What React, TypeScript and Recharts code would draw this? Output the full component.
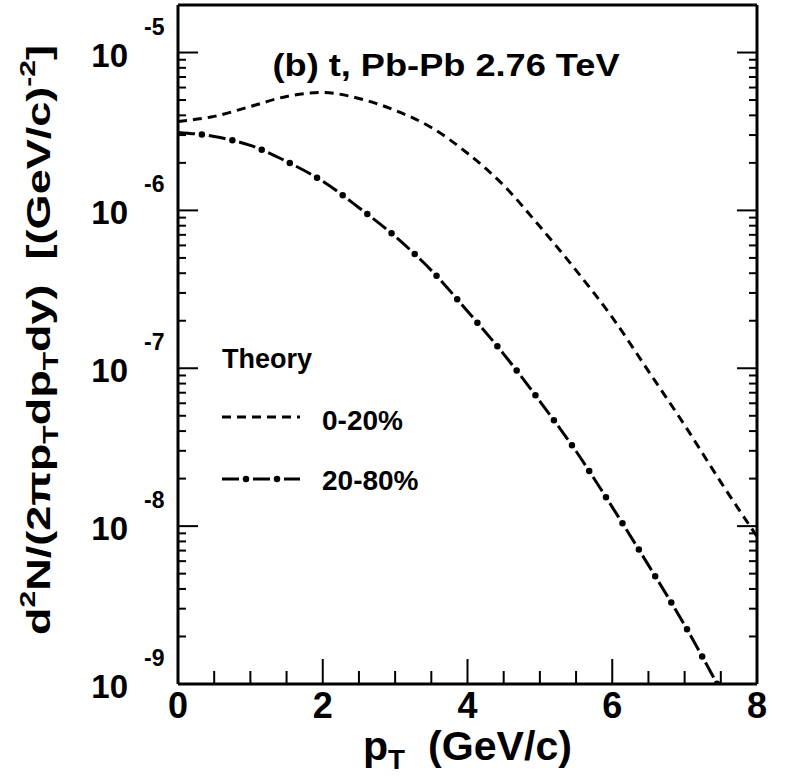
import React from 'react';
import { LineChart, Line, XAxis, YAxis, Legend } from 'recharts';

// p_T grid (GeV/c) and the two theory curves
const ptCentral = [0, 0.5, 1, 1.5, 2, 2.5, 3, 3.5, 4, 4.5, 5, 5.5, 6, 6.5, 7, 7.5, 8];
const yieldCentral = [
  3.66e-6, 3.94e-6, 4.55e-6, 5.27e-6, 5.58e-6, 5.12e-6, 4.3e-6, 3.35e-6, 2.3e-6,
  1.44e-6, 7.9e-7, 4.17e-7, 2.1e-7, 9.6e-8, 4.36e-8, 1.9e-8, 8.6e-9,
];

const ptPeripheral = [0, 0.5, 1, 1.5, 2, 2.5, 3, 3.5, 4, 4.5, 5, 5.5, 6, 6.5, 7, 7.45];
const yieldPeripheral = [
  3.12e-6, 2.94e-6, 2.58e-6, 2.04e-6, 1.53e-6, 1.04e-6, 6.84e-7, 4.17e-7, 2.3e-7,
  1.23e-7, 6.18e-8, 2.98e-8, 1.32e-8, 5.66e-9, 2.36e-9, 1.0e-9,
];

const xTicks = [0, 0.5, 1, 1.5, 2, 2.5, 3, 3.5, 4, 4.5, 5, 5.5, 6, 6.5, 7, 7.5, 8];
const yDecades = [1e-9, 1e-8, 1e-7, 1e-6, 1e-5];
const yMantissas = [1, 2, 3, 4, 5, 6, 7, 8, 9];
const yTicks = yDecades.flatMap((d) => yMantissas.map((m) => m * d));

const centralData = ptCentral.map((x, i) => ({ x, y: yieldCentral[i] }));
const peripheralData = ptPeripheral.map((x, i) => ({ x, y: yieldPeripheral[i] }));

const FONT = '"Liberation Sans", Arial, Helvetica, sans-serif';
const W = 791;
const H = 779;

const isMajorY = (v: number) => {
  const e = Math.floor(Math.log10(v) + 1e-9);
  return Math.abs(v / Math.pow(10, e) - 1) < 1e-6;
};

const BottomTick = ({ x, y, payload }: any) => {
  const major = payload.value % 2 === 0;
  return (
    <g>
      <line x1={x} x2={x} y1={y} y2={y - (major ? 25 : 13)} stroke="#000" strokeWidth={2} />
      {major && (
        <text x={x} y={y + 34} textAnchor="middle" fontSize={36} fontWeight="bold" fontFamily={FONT} fill="#000">
          {payload.value}
        </text>
      )}
    </g>
  );
};

const TopTick = ({ x, y, payload }: any) => {
  const major = payload.value % 2 === 0;
  return <line x1={x} x2={x} y1={y} y2={y + (major ? 28 : 15)} stroke="#000" strokeWidth={2} />;
};

const LeftTick = ({ x, y, payload }: any) => {
  const major = isMajorY(payload.value);
  const exp = Math.round(Math.log10(payload.value));
  return (
    <g>
      <line x1={x} x2={x + (major ? 20 : 8)} y1={y} y2={y} stroke="#000" strokeWidth={2} />
      {major && (
        <g fontWeight="bold" fontFamily={FONT} fill="#000">
          <text x={x - 50} y={y + 14} textAnchor="end" fontSize={33}>10</text>
          <text x={x - 34} y={y - 18} fontSize={23}>{String(exp)}</text>
        </g>
      )}
    </g>
  );
};

const RightTick = ({ x, y, payload }: any) => {
  const major = isMajorY(payload.value);
  return <line x1={x} x2={x - (major ? 20 : 8)} y1={y} y2={y} stroke="#000" strokeWidth={2} />;
};

const TitleLabel = () => (
  <text x={446} y={76} textAnchor="middle" fontSize={31} fontWeight="bold" fontFamily={FONT}
    textLength={347} lengthAdjust="spacingAndGlyphs" fill="#000">
    (b) t, Pb-Pb 2.76 TeV
  </text>
);

const XTitle = () => (
  <text x={363} y={760} fontSize={40} fontWeight="bold" fontFamily={FONT} fill="#000"
    textLength={209} lengthAdjust="spacingAndGlyphs" style={{ whiteSpace: 'pre' }}>
    p<tspan dy={9} fontSize={27}>T</tspan><tspan dy={-9}>  (GeV/c)</tspan>
  </text>
);

const YTitle = () => (
  <text x={50} y={340} transform="rotate(-90 50 340)" textAnchor="middle" fontSize={33} fontWeight="bold"
    fontFamily={FONT} fill="#000" textLength={590} lengthAdjust="spacingAndGlyphs" style={{ whiteSpace: 'pre' }}>
    d<tspan dy={-15} fontSize={22}>2</tspan>
    <tspan dy={15}>N/(2πp</tspan>
    <tspan dy={8} fontSize={22}>T</tspan>
    <tspan dy={-8}>dp</tspan>
    <tspan dy={8} fontSize={22}>T</tspan>
    <tspan dy={-8}>dy)  [(GeV/c)</tspan>
    <tspan dy={-15} fontSize={22}>-2</tspan>
    <tspan dy={15}>]</tspan>
  </text>
);

const TheoryLegend = () => (
  <div style={{ position: 'relative', width: 0, height: 0 }}>
    <svg width={W} height={H} style={{ position: 'absolute', left: 0, top: 0, overflow: 'visible', pointerEvents: 'none' }}>
      <g fontWeight="bold" fontFamily={FONT} fill="#000">
        <text x={222} y={368} fontSize={27}>Theory</text>
        <text x={322} y={430} fontSize={28}>0-20%</text>
        <text x={322} y={490} fontSize={28}>20-80%</text>
      </g>
      <line x1={222} x2={300} y1={417} y2={417} stroke="#000" strokeWidth={3} strokeDasharray="9 6" />
      <line x1={222} x2={300} y1={479} y2={479} stroke="#000" strokeWidth={3} strokeDasharray="17 14" />
      <line x1={222} x2={300} y1={479} y2={479} stroke="#000" strokeWidth={6.5} strokeLinecap="round"
        strokeDasharray="0 31" strokeDashoffset={7} />
    </svg>
  </div>
);

export default function App() {
  return (
    <div style={{ position: 'absolute', left: 0, top: 0, width: W, height: H, background: '#fff' }}>
      <LineChart width={W} height={H} margin={{ top: 4, right: 33, bottom: 35, left: 78 }}>
        <XAxis
          type="number"
          dataKey="x"
          domain={[0, 8]}
          ticks={xTicks}
          interval={0}
          height={60}
          tickSize={0}
          tickMargin={0}
          tickLine={false}
          axisLine={{ stroke: '#000', strokeWidth: 3 }}
          tick={<BottomTick />}
          label={<XTitle />}
        />
        <XAxis
          xAxisId="top"
          orientation="top"
          type="number"
          dataKey="x"
          domain={[0, 8]}
          ticks={xTicks}
          interval={0}
          height={1}
          tickSize={0}
          tickMargin={0}
          tickLine={false}
          axisLine={{ stroke: '#000', strokeWidth: 3 }}
          tick={<TopTick />}
          label={<TitleLabel />}
        />
        <YAxis
          type="number"
          scale="log"
          domain={[1e-9, 2e-5]}
          allowDataOverflow
          ticks={yTicks}
          interval={0}
          width={100}
          tickSize={0}
          tickMargin={0}
          tickLine={false}
          axisLine={{ stroke: '#000', strokeWidth: 3 }}
          tick={<LeftTick />}
          label={<YTitle />}
        />
        <YAxis
          yAxisId="right"
          orientation="right"
          type="number"
          scale="log"
          domain={[1e-9, 2e-5]}
          allowDataOverflow
          ticks={yTicks}
          interval={0}
          width={1}
          tickSize={0}
          tickMargin={0}
          tickLine={false}
          axisLine={{ stroke: '#000', strokeWidth: 3 }}
          tick={<RightTick />}
        />
        <Legend content={<TheoryLegend />} wrapperStyle={{ left: 0, top: 0, width: 0, height: 0 }} />
        <Line
          data={centralData}
          dataKey="y"
          type="monotone"
          stroke="#000"
          strokeWidth={3}
          strokeDasharray="9 6"
          dot={false}
          isAnimationActive={false}
          name="0-20%"
        />
        <Line
          data={peripheralData}
          dataKey="y"
          type="monotone"
          stroke="#000"
          strokeWidth={3}
          strokeDasharray="17 14"
          dot={false}
          isAnimationActive={false}
          name="20-80%"
        />
        <Line
          data={peripheralData}
          dataKey="y"
          type="monotone"
          stroke="#000"
          strokeWidth={6.5}
          strokeLinecap="round"
          strokeDasharray="0 31"
          strokeDashoffset={7}
          dot={false}
          isAnimationActive={false}
          legendType="none"
          name="20-80% markers"
        />
      </LineChart>
    </div>
  );
}
